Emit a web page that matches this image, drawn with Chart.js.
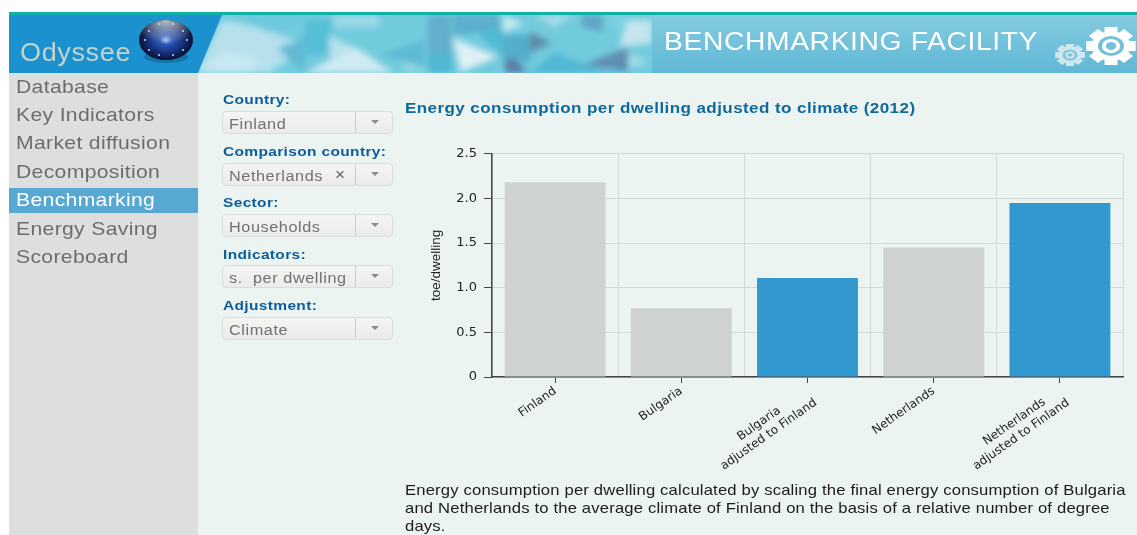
<!DOCTYPE html>
<html>
<head>
<meta charset="utf-8">
<title>Benchmarking facility</title>
<script src="https://cdn.jsdelivr.net/npm/chart.js@4"></script>
<style>
  html, body { margin: 0; padding: 0; background: #fff; overflow: hidden; }
  body { width: 1137px; height: 535px; position: relative; font-family: "Liberation Sans", Arial, sans-serif; }
  .abs { position: absolute; }
  .wide { transform-origin: left top; }
  #strip { left: 9px; right: 0; top: 12px; height: 3px; background: #0fb2a6; }
  #banner { left: 9px; top: 15px; }
  #brand { left: 20px; top: 38px; font-size: 25px; letter-spacing: 0.6px; color: #c4d3cb; line-height: 28px; transform: scaleX(1.08); }
  #heading { left: 664px; top: 26px; font-size: 25px; letter-spacing: 0.55px; color: #fff; line-height: 30px; white-space: nowrap; transform: scaleX(1.13); }
  #side { left: 9px; top: 73px; width: 189px; height: 462px; background: #dcdfde; }
  #main { left: 198px; top: 73px; width: 939px; height: 462px; background: #ecf4f1; }
  .menu { position: absolute; left: 16px; font-size: 19px; letter-spacing: 0.3px; line-height: 24px; color: #6e6d6b; white-space: nowrap; transform: scaleX(1.113); transform-origin: left top; }
  #active { left: 9px; top: 188px; width: 189px; height: 25px; background: #57a8d2; }
  .lbl { position: absolute; left: 223px; font-size: 13.5px; font-weight: bold; letter-spacing: 0.3px; line-height: 16px; color: #0b5c99; white-space: nowrap; transform: scaleX(1.148); transform-origin: left top; }
  .sel { position: absolute; left: 222px; width: 171px; height: 23px; box-sizing: border-box; border: 1px solid #d9dcda; border-radius: 4px; background: linear-gradient(#f4f4f3, #ebebea); overflow: hidden; }
  .sel i { position: absolute; left: 132px; top: 0; bottom: 0; width: 1px; background: #c9cccb; }
  .sel b { position: absolute; left: 148px; top: 8px; width: 0; height: 0; border-left: 4px solid transparent; border-right: 4px solid transparent; border-top: 4px solid #8b8b8b; }
  .sel span { position: absolute; left: 6px; top: 3px; font-size: 14px; letter-spacing: 0.5px; line-height: 18px; color: #73716f; white-space: nowrap; transform: scaleX(1.16); transform-origin: left top; }
  .sel em { position: absolute; left: 112px; top: 2px; font-style: normal; font-size: 17px; line-height: 18px; color: #6a6a6a; }
  #title { left: 405px; top: 100px; font-size: 14.5px; font-weight: bold; letter-spacing: 0.35px; line-height: 17px; color: #10699c; white-space: nowrap; transform: scaleX(1.175); }
  #note { left: 405px; top: 481px; font-size: 14.5px; letter-spacing: 0.15px; line-height: 18px; color: #1c1c1c; white-space: nowrap; transform: scaleX(1.147); }
  #wrap { left: 420px; top: 139px; width: 717px; height: 340px; }
</style>
</head>
<body>
<div class="abs" id="strip"></div>
<svg class="abs" id="banner" width="1128" height="58" viewBox="0 0 1128 58">
  <defs>
    <linearGradient id="tail" x1="0" y1="0" x2="0" y2="1">
      <stop offset="0" stop-color="#84cbe1"/><stop offset="1" stop-color="#5fb8d5"/>
    </linearGradient>
    <filter id="soft" filterUnits="userSpaceOnUse" x="150" y="-20" width="530" height="100"><feGaussianBlur stdDeviation="3.2"/></filter>
    <clipPath id="pat"><polygon points="213,0 643,0 643,58 189,58"/></clipPath>
    <radialGradient id="orb" cx="0.5" cy="0.5" r="0.55">
      <stop offset="0" stop-color="#a8c4f2"/><stop offset="0.22" stop-color="#2a55b8"/>
      <stop offset="0.7" stop-color="#0f2565"/><stop offset="1" stop-color="#05080f"/>
    </radialGradient>
    <radialGradient id="shine" cx="0.5" cy="0" r="0.6">
      <stop offset="0" stop-color="#d8dde0" stop-opacity="0.85"/><stop offset="1" stop-color="#d8dde0" stop-opacity="0"/>
    </radialGradient>
  </defs>
  <rect width="1128" height="58" fill="url(#tail)"/>
  <rect width="260" height="58" fill="#1b92cf"/>
  <g clip-path="url(#pat)">
    <rect x="185" width="460" height="58" fill="#72cbdd"/>
    <g filter="url(#soft)">
      <polygon points="186,58 213,5 240,10 300,30 260,58" fill="#b5e0ec"/>
      <polygon points="190,58 215,35 250,45 240,58" fill="#c6e8f1"/>
      <polygon points="225,0 300,0 270,14" fill="#6cc8db"/>
      <polygon points="268,34 296,22 296,58" fill="#62bad4"/>
      <polygon points="296,5 322,5 322,40 296,40" fill="#55bfd5"/>
      <polygon points="320,20 365,42 320,42" fill="#b4e1ec"/>
      <polygon points="296,58 345,32 385,58" fill="#cfeaf2"/>
      <polygon points="325,0 370,0 370,12 325,12" fill="#9cdae7"/>
      <polygon points="370,40 415,25 415,50" fill="#5db9d3"/>
      <polygon points="395,45 420,58 395,58" fill="#92d5e4"/>
      <polygon points="419,0 443,0 443,38 419,38" fill="#62aecb"/>
      <polygon points="419,38 443,38 443,58 419,58" fill="#4fb7d2"/>
      <polygon points="444,23 489,42 452,57" fill="#e0f0f5"/>
      <polygon points="445,0 490,0 490,16 445,20" fill="#5cafcd"/>
      <polygon points="470,20 494,10 494,42" fill="#4fbbd4"/>
      <polygon points="494,0 516,9 494,17" fill="#c8e9f1"/>
      <polygon points="496,32 519,58 496,58" fill="#5b7ea8"/>
      <polygon points="494,20 521,20 521,48 494,42" fill="#52aec9"/>
      <polygon points="521,17 543,28 521,38" fill="#5e8aa8"/>
      <polygon points="521,58 545,38 600,58" fill="#50b8d4"/>
      <polygon points="525,0 565,0 545,12" fill="#a8dde8"/>
      <polygon points="573,0 594,0 594,17 573,12" fill="#5fa5c5"/>
      <polygon points="574,50 619,32 619,57" fill="#5e8fb2"/>
      <polygon points="595,0 619,0 619,28" fill="#7cd0e0"/>
      <polygon points="619,5 643,5 643,28 610,32" fill="#c5e5ef"/>
      <polygon points="620,38 640,46 620,54" fill="#a5dbe8"/>
    </g>
  </g>
  <ellipse cx="157" cy="42" rx="22" ry="6" fill="#0b4f78" opacity="0.45"/>
  <ellipse cx="157" cy="25" rx="27" ry="20" fill="url(#orb)"/>
  <ellipse cx="157" cy="25" rx="27" ry="20" fill="url(#shine)"/>
  <g fill="#cfd8e6">
    <circle cx="140" cy="16" r="1"/><circle cx="136" cy="25" r="1"/><circle cx="140" cy="35" r="1"/>
    <circle cx="150" cy="40" r="1"/><circle cx="164" cy="40" r="1"/><circle cx="174" cy="35" r="1"/>
    <circle cx="178" cy="25" r="1"/><circle cx="174" cy="16" r="1"/><circle cx="150" cy="9" r="1"/><circle cx="164" cy="9" r="1"/>
  </g>
  <g transform="translate(1102 31) scale(1.3 1)">
    <g fill="#fff">
      <rect x="-5" y="-19" width="10" height="38"/>
      <rect x="-5" y="-19" width="10" height="38" transform="rotate(45)"/>
      <rect x="-5" y="-19" width="10" height="38" transform="rotate(90)"/>
      <rect x="-5" y="-19" width="10" height="38" transform="rotate(135)"/>
      <circle r="15"/>
    </g>
    <circle r="10" fill="#74c1da"/>
    <circle r="7" fill="#fff"/>
    <circle r="4" fill="#74c1da"/>
  </g>
  <g transform="translate(1061 40) scale(1.35 1)">
    <g fill="#cfe7ef">
      <rect x="-3" y="-11" width="6" height="22"/>
      <rect x="-3" y="-11" width="6" height="22" transform="rotate(45)"/>
      <rect x="-3" y="-11" width="6" height="22" transform="rotate(90)"/>
      <rect x="-3" y="-11" width="6" height="22" transform="rotate(135)"/>
      <circle r="8.5"/>
    </g>
    <circle r="5.5" fill="#82c6dc"/>
    <circle r="3.5" fill="#cfe7ef"/>
    <circle r="1.8" fill="#82c6dc"/>
  </g>
</svg>
<div class="abs wide" id="brand">Odyssee</div>
<div class="abs wide" id="heading">BENCHMARKING FACILITY</div>
<div class="abs" id="side"></div>
<div class="abs" id="main"></div>
<div class="abs" id="active"></div>
<div class="menu" style="top:75px">Database</div>
<div class="menu" style="top:103px">Key Indicators</div>
<div class="menu" style="top:131px">Market diffusion</div>
<div class="menu" style="top:160px">Decomposition</div>
<div class="menu" style="top:188px;color:#fff">Benchmarking</div>
<div class="menu" style="top:217px">Energy Saving</div>
<div class="menu" style="top:245px">Scoreboard</div>

<div class="lbl" style="top:92px">Country:</div>
<div class="sel" style="top:111px"><span>Finland</span><i></i><b></b></div>
<div class="lbl" style="top:144px">Comparison country:</div>
<div class="sel" style="top:163px"><span>Netherlands</span><em>&#215;</em><i></i><b></b></div>
<div class="lbl" style="top:195px">Sector:</div>
<div class="sel" style="top:214px"><span>Households</span><i></i><b></b></div>
<div class="lbl" style="top:247px">Indicators:</div>
<div class="sel" style="top:265px"><span>s. &nbsp;per dwelling</span><i></i><b></b></div>
<div class="lbl" style="top:298px">Adjustment:</div>
<div class="sel" style="top:317px"><span>Climate</span><i></i><b></b></div>

<div class="abs wide" id="title">Energy consumption per dwelling adjusted to climate (2012)</div>
<div class="abs" id="wrap"><canvas id="barChart" width="717" height="340"></canvas></div>
<div class="abs wide" id="note">Energy consumption per dwelling calculated by scaling the final energy consumption of Bulgaria<br>and Netherlands to the average climate of Finland on the basis of a relative number of degree<br>days.</div>

<script>
// values (toe/dwelling)
const categories = [
  'Finland',
  'Bulgaria',
  ['Bulgaria         ', 'adjusted to Finland'], // trailing spaces centre the short line
  'Netherlands',
  ['Netherlands     ', 'adjusted to Finland']
];
const consumption = [2.18, 0.77, 1.11, 1.45, 1.95];
const barColors = ['#ced3d1', '#ced3d1', '#3299d0', '#ced3d1', '#3299d0'];
const yTicks = [0, 0.5, 1, 1.5, 2, 2.5];

const gridColor = '#d3d8d6';
const axisColor = '#444';

new Chart(document.getElementById('barChart'), {
  type: 'bar',
  data: {
    labels: categories,
    datasets: [{
      data: consumption,
      backgroundColor: barColors,
      barPercentage: 0.8,
      categoryPercentage: 1
    }]
  },
  options: {
    responsive: false,
    animation: false,
    layout: { padding: { top: 12, right: 14, left: 0, bottom: 0 } },
    plugins: { legend: { display: false }, tooltip: { enabled: false } },
    scales: {
      x: {
        offset: true,
        grid: { offset: false, drawOnChartArea: false, tickColor: axisColor, tickLength: 6 },
        border: { color: axisColor, width: 1.5 },
        ticks: {
          minRotation: 35, maxRotation: 35, autoSkip: false,
          font: { family: '"DejaVu Sans", sans-serif', size: 12 }, color: '#222', padding: 1
        },
        afterFit: (scale) => { scale.height = 102; }
      },
      // second axis only carries the gridlines between the categories
      xGrid: {
        type: 'category',
        position: 'bottom',
        offset: true,
        labels: categories,
        grid: { offset: true, color: gridColor, drawTicks: false },
        border: { display: false },
        ticks: { display: false },
        afterFit: (scale) => { scale.height = 0; }
      },
      y: {
        min: 0,
        max: 2.5,
        afterBuildTicks: (scale) => { scale.ticks = yTicks.map((value) => ({ value })); },
        grid: { color: gridColor, tickColor: axisColor, tickLength: 8 },
        border: { color: axisColor, width: 1.5 },
        title: {
          display: true, text: 'toe/dwelling', color: '#222', padding: 8,
          font: { family: '"Liberation Sans Narrow", "Liberation Sans", sans-serif', size: 13.5 }
        },
        ticks: {
          font: { family: '"DejaVu Sans", sans-serif', size: 13 }, color: '#222', padding: 7,
          callback: (value) => (value === 0 ? '0' : value.toFixed(1))
        },
        afterFit: (scale) => { scale.width = 72; }
      }
    }
  }
});
</script>
</body>
</html>
